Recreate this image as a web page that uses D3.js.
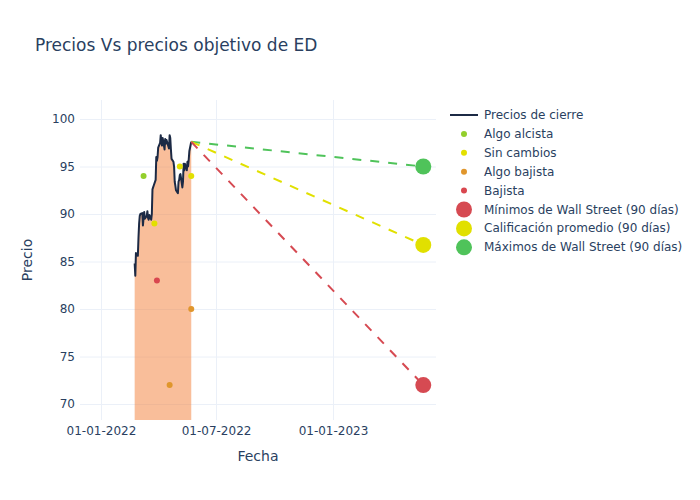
<!DOCTYPE html>
<html><head><meta charset="utf-8">
<script src="https://cdn.jsdelivr.net/npm/d3@7"></script>
<style>body{margin:0;background:#fff;} svg text{font-family:"DejaVu Sans",sans-serif;}</style>
</head><body><svg id="c" width="700" height="500"></svg>
<script>
const priceDates = ["2022-02-23","2022-02-24","2022-02-25","2022-02-28",
"2022-03-01","2022-03-02","2022-03-03","2022-03-04","2022-03-07","2022-03-08","2022-03-09","2022-03-10","2022-03-11",
"2022-03-14","2022-03-15","2022-03-16","2022-03-17","2022-03-18","2022-03-21","2022-03-22","2022-03-23","2022-03-24","2022-03-25",
"2022-03-28","2022-03-29","2022-03-30","2022-03-31","2022-04-01","2022-04-04","2022-04-05","2022-04-06","2022-04-07","2022-04-08",
"2022-04-11","2022-04-12","2022-04-13","2022-04-14","2022-04-18","2022-04-19","2022-04-20","2022-04-21","2022-04-22",
"2022-04-25","2022-04-26","2022-04-27","2022-04-28","2022-04-29","2022-05-02","2022-05-03","2022-05-04","2022-05-05","2022-05-06",
"2022-05-09","2022-05-10","2022-05-11","2022-05-12","2022-05-13","2022-05-16","2022-05-17","2022-05-18","2022-05-19","2022-05-20","2022-05-23"];
const priceValues = [84.8,83.5,85.9,85.6,
87.5,89.0,89.8,90.0,90.1,88.8,89.6,90.2,89.5,
89.8,90.3,89.6,89.4,89.9,89.4,90.0,92.6,92.8,93.0,
93.6,96.0,95.6,96.0,97.0,97.5,98.3,97.6,97.2,98.0,
96.8,97.9,97.4,97.8,96.9,98.3,98.0,96.8,95.8,
95.5,95.0,93.4,93.0,92.5,92.2,93.4,93.6,94.1,94.2,
92.8,93.4,95.3,94.6,95.3,94.6,95.5,95.0,95.7,96.6,97.6];

const ratingNames = ["Algo alcista","Sin cambios","Algo bajista","Bajista"];
const ratingColors = ["#93cf2c","#e3e000","#e0962c","#d9474f"];
const ratingDates = [["2022-03-09"],["2022-03-26","2022-05-05","2022-05-23"],["2022-04-19","2022-05-23"],["2022-03-30"]];
const ratingValues = [[94],[89,95,94],[72,80],[83]];

const targetNames = ["Mínimos de Wall Street (90 días)","Calificación promedio (90 días)","Máximos de Wall Street (90 días)"];
const targetColors = ["#d64a52","#e1e000","#4fc35a"];
const targetDate = "2023-05-23";
const targetValues = [72, 86.75, 95];

const xTicks = ["2022-01-01","2022-07-01","2023-01-01"];
const xTickLabels = ["01-01-2022","01-07-2022","01-01-2023"];
const yTicks = [70,75,80,85,90,95,100];

const P = d3.timeParse("%Y-%m-%d");
const svg = d3.select("#c");
const L=80,R=436,T=100,B=420;
const x = d3.scaleTime().domain([P("2021-11-29"),P("2023-06-12")]).range([L,R]);
const y = d3.scaleLinear().domain([68.32,102]).range([B,T]);
const txt="#2a3f5f", grid="#ebf0f8";

svg.append("text").attr("x",35).attr("y",51).attr("font-size",17).attr("fill",txt).text("Precios Vs precios objetivo de ED");

svg.append("defs").append("clipPath").attr("id","clip").append("rect").attr("x",L).attr("y",T).attr("width",R-L).attr("height",B-T);

const g = svg.append("g");
const yAxis = d3.axisLeft(y).tickValues(yTicks).tickSize(-(R-L)).tickPadding(4);
const ya = g.append("g").attr("transform",`translate(${L},0)`).call(yAxis);
ya.select(".domain").remove();
ya.selectAll("line").attr("stroke",grid);
ya.selectAll("text").attr("fill",txt).attr("font-size",12).attr("font-family","DejaVu Sans").attr("dx",-1);
const xAxis = d3.axisBottom(x).tickValues(xTicks.map(P)).tickFormat((d,i)=>xTickLabels[i]).tickSize(-(B-T)).tickPadding(6);
const xa = g.append("g").attr("transform",`translate(0,${B})`).call(xAxis);
xa.select(".domain").remove();
xa.selectAll("line").attr("stroke",grid);
xa.selectAll("text").attr("fill",txt).attr("font-size",12).attr("font-family","DejaVu Sans");

svg.append("text").attr("x",(L+R)/2).attr("y",461).attr("text-anchor","middle").attr("font-size",14).attr("fill",txt).text("Fecha");
svg.append("text").attr("transform",`translate(32,${(T+B)/2}) rotate(-90)`).attr("text-anchor","middle").attr("font-size",14).attr("fill",txt).text("Precio");

const plot = svg.append("g").attr("clip-path","url(#clip)");
const pdata = priceDates.map((d,i)=>({d:P(d),v:priceValues[i]}));
plot.append("path").datum(pdata).attr("fill","rgba(243,125,53,0.5)")
  .attr("d",d3.area().x(p=>x(p.d)).y0(y(0)).y1(p=>y(p.v)));
plot.append("path").datum(pdata).attr("fill","none").attr("stroke","#1c2a45").attr("stroke-width",2).attr("stroke-linejoin","round")
  .attr("d",d3.line().x(p=>x(p.d)).y(p=>y(p.v)));

const last = pdata[pdata.length-1];
[2,1,0].forEach(i=>{
  plot.append("path").datum([last,{d:P(targetDate),v:targetValues[i]}])
   .attr("fill","none").attr("stroke",targetColors[i]).attr("stroke-width",2).attr("stroke-dasharray","9,9")
   .attr("d",d3.line().x(p=>x(p.d)).y(p=>y(p.v)));
});

ratingNames.forEach((n,i)=>{
  ratingDates[i].forEach((d,j)=>{
    plot.append("circle").attr("cx",x(P(d))).attr("cy",y(ratingValues[i][j])).attr("r",3).attr("fill",ratingColors[i]);
  });
});
targetValues.forEach((v,i)=>{
  plot.append("circle").attr("cx",x(P(targetDate))).attr("cy",y(v)).attr("r",8).attr("fill",targetColors[i]);
});

const lg = svg.append("g");
const ly0=115, ldy=18.9, lx=450, ltx=484;
lg.append("line").attr("x1",lx).attr("x2",lx+28).attr("y1",ly0).attr("y2",ly0).attr("stroke","#1c2a45").attr("stroke-width",2);
lg.append("text").attr("x",ltx).attr("y",ly0+4).attr("font-size",12).attr("fill",txt).text("Precios de cierre");
ratingNames.forEach((n,i)=>{
  const yy=ly0+ldy*(i+1);
  lg.append("circle").attr("cx",lx+14).attr("cy",yy).attr("r",3).attr("fill",ratingColors[i]);
  lg.append("text").attr("x",ltx).attr("y",yy+4).attr("font-size",12).attr("fill",txt).text(n);
});
targetNames.forEach((n,i)=>{
  const yy=ly0+ldy*(i+5);
  lg.append("circle").attr("cx",lx+14).attr("cy",yy).attr("r",8).attr("fill",targetColors[i]);
  lg.append("text").attr("x",ltx).attr("y",yy+4).attr("font-size",12).attr("fill",txt).text(n);
});
</script></body></html>
